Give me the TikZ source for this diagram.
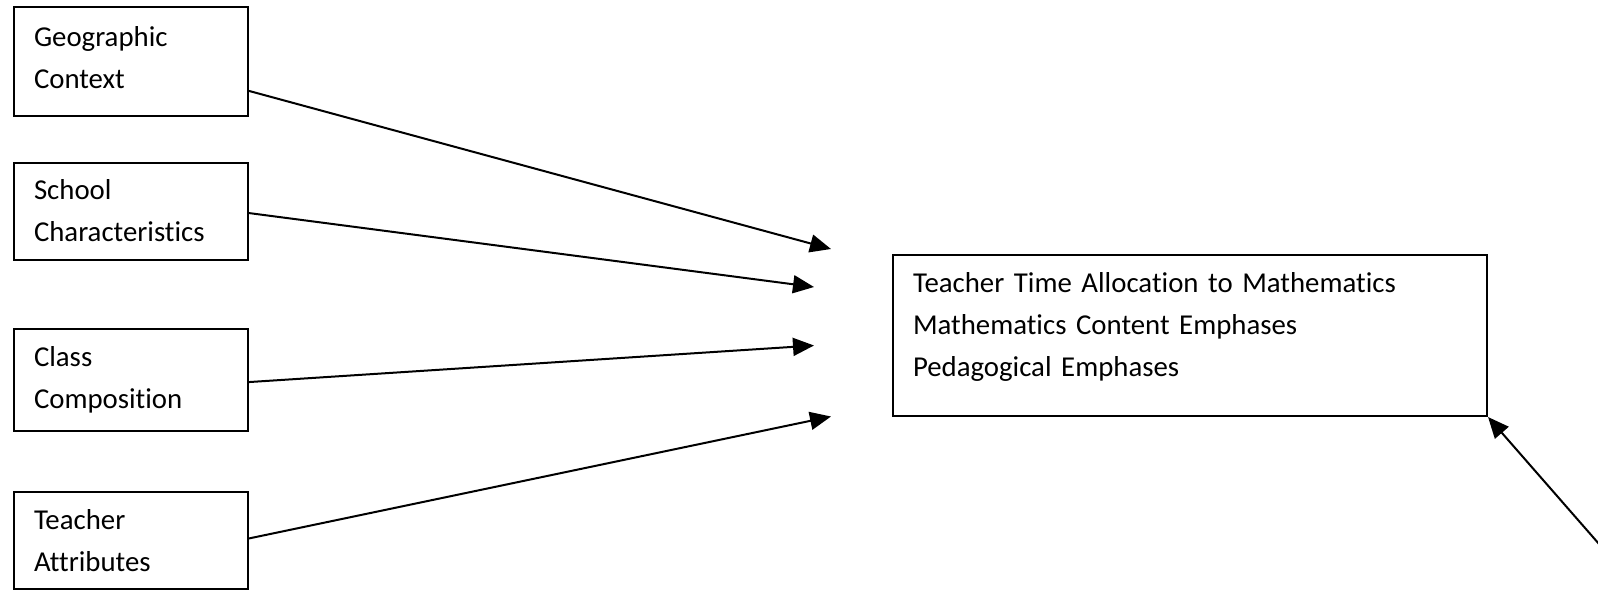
\documentclass[tikz,border=0pt]{standalone}
\usepackage{fontspec}
\setmainfont{Carlito}[Ligatures={NoCommon}]
\usepackage{tikz}
\usetikzlibrary{arrows.meta,positioning}

\begin{document}
\begin{tikzpicture}[x=0.5pt,y=-0.5pt,
  box/.style={draw,line width=1pt,anchor=north west,minimum width=117pt,text width=97pt,inner xsep=10pt,inner ysep=0pt,align=left,font=\fontsize{14.4}{21}\selectfont},
  arr/.style={-{Triangle[length=10.5pt,width=9pt]},line width=1pt}]
\useasboundingbox (0,0) rectangle (1598,589);
\node[box,minimum height=54.5pt] (geo) at (13,6) {Geographic\\Context\rule[-4pt]{0pt}{1pt}};
\node[box,minimum height=48.5pt] (school) at (13,161.5) {School\\Characteristics};
\node[box,minimum height=51pt] (class) at (13,328) {Class\\Composition};
\node[box,minimum height=48.5pt] (teacher) at (13,491) {Teacher\\Attributes};
\node[box,minimum width=297pt,text width=277pt,minimum height=80.5pt] (out) at (892,254)
  {Teacher Time Allocation to Mathematics\\Mathematics Content Emphases\\Pedagogical Emphases\rule[-11pt]{0pt}{1pt}};
% free arrow ends
\coordinate (t1) at (831,249);
\coordinate (t2) at (814,287);
\coordinate (t3) at (814,345.5);
\coordinate (t4) at (831,416.5);
\coordinate (src) at (1620,568);
\draw[arr] (geo.-14.2)--(t1);
\draw[arr] (school.-1.7)--(t2);
\draw[arr] (class.-1)--(t3);
\draw[arr] (teacher.1.2)--(t4);
\draw[arr] (src)--(out.south east);
\end{tikzpicture}
\end{document}
